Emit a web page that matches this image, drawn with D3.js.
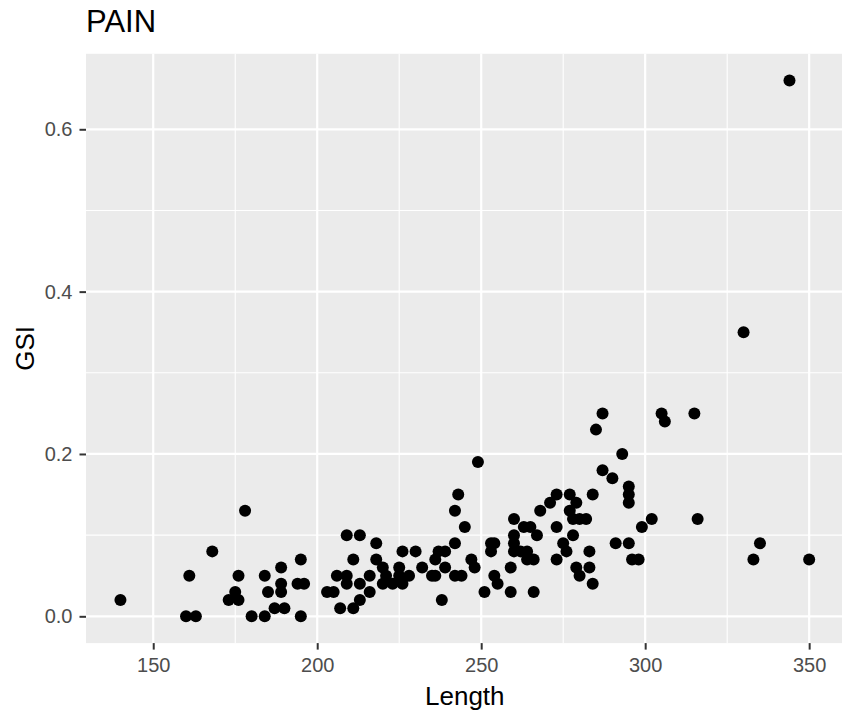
<!DOCTYPE html>
<html>
<head>
<meta charset="utf-8">
<script src="https://cdn.jsdelivr.net/npm/d3@7"></script>
<style>
  html, body { margin: 0; padding: 0; background: #fff; }
  svg { display: block; font-family: "Liberation Sans", Arial, Helvetica, sans-serif; }
</style>
</head>
<body>
<div id="chart"></div>
<script>
// Fish length vs gonadosomatic index
const lengths = [
  140, 160, 163, 161, 168, 173, 175, 176, 176, 178,
  180, 184, 184, 185, 187, 189, 189, 189, 190, 194,
  196, 195, 195, 203, 205, 206, 207, 209, 209, 209,
  211, 211, 213, 213, 213, 216, 216, 218, 218, 220,
  220, 221, 223, 225, 225, 226, 226, 228, 230, 232,
  235, 236, 236, 237, 239, 239, 238, 242, 242, 243,
  245, 242, 244, 247, 248, 249, 251, 253, 254, 253,
  254, 255, 259, 259, 260, 260, 260, 260, 262, 263,
  265, 267, 264, 264, 266, 266, 268, 271, 273, 273,
  273, 275, 276, 277, 277, 278, 280, 282, 278, 279,
  279, 283, 280, 283, 284, 284, 285, 287, 287, 290,
  293, 295, 295, 295, 291, 295, 296, 298, 299, 302,
  305, 306, 315, 316, 330, 333, 335, 344, 350
];
const gsi = [
  0.02, 0.00, 0.00, 0.05, 0.08, 0.02, 0.03, 0.02, 0.05, 0.13,
  0.00, 0.00, 0.05, 0.03, 0.01, 0.03, 0.04, 0.06, 0.01, 0.04,
  0.04, 0.07, 0.00, 0.03, 0.03, 0.05, 0.01, 0.05, 0.04, 0.10,
  0.01, 0.07, 0.10, 0.02, 0.04, 0.03, 0.05, 0.09, 0.07, 0.06,
  0.04, 0.05, 0.04, 0.06, 0.05, 0.04, 0.08, 0.05, 0.08, 0.06,
  0.05, 0.05, 0.07, 0.08, 0.08, 0.06, 0.02, 0.09, 0.13, 0.15,
  0.11, 0.05, 0.05, 0.07, 0.06, 0.19, 0.03, 0.09, 0.09, 0.08,
  0.05, 0.04, 0.06, 0.03, 0.12, 0.10, 0.09, 0.08, 0.08, 0.11,
  0.11, 0.10, 0.08, 0.07, 0.07, 0.03, 0.13, 0.14, 0.15, 0.11,
  0.07, 0.09, 0.08, 0.15, 0.13, 0.12, 0.12, 0.12, 0.10, 0.14,
  0.06, 0.06, 0.05, 0.08, 0.04, 0.15, 0.23, 0.25, 0.18, 0.17,
  0.20, 0.16, 0.15, 0.14, 0.09, 0.09, 0.07, 0.07, 0.11, 0.12,
  0.25, 0.24, 0.25, 0.12, 0.35, 0.07, 0.09, 0.66, 0.07
];

const xMajor = [150, 200, 250, 300, 350];
const xMinor = [175, 225, 275, 325];
const yMajor = [0, 0.2, 0.4, 0.6];
const yMinor = [0.1, 0.3, 0.5];

const titleText = "PAIN";
const xTitle = "Length";
const yTitle = "GSI";

const W = 842, H = 713;
const panel = { left: 86, right: 843.6, top: 53.8, bottom: 643.1 };

// ggplot-style 5% expansion around the data range
const xExt = d3.extent(lengths), yExt = d3.extent(gsi);
const xPad = (xExt[1] - xExt[0]) * 0.05, yPad = (yExt[1] - yExt[0]) * 0.05;

const x = d3.scaleLinear().domain([xExt[0] - xPad, xExt[1] + xPad]).range([panel.left, panel.right]);
const y = d3.scaleLinear().domain([yExt[0] - yPad, yExt[1] + yPad]).range([panel.bottom, panel.top]);

const svg = d3.select("#chart").append("svg")
  .attr("width", W).attr("height", H);

svg.append("rect")
  .attr("x", panel.left).attr("y", panel.top)
  .attr("width", panel.right - panel.left).attr("height", panel.bottom - panel.top)
  .attr("fill", "#EBEBEB");

const grid = svg.append("g");
grid.selectAll(".xminor").data(xMinor).join("line")
  .attr("x1", d => x(d)).attr("x2", d => x(d))
  .attr("y1", panel.top).attr("y2", panel.bottom)
  .attr("stroke", "#fff").attr("stroke-width", 1.1);
grid.selectAll(".yminor").data(yMinor).join("line")
  .attr("y1", d => y(d)).attr("y2", d => y(d))
  .attr("x1", panel.left).attr("x2", panel.right)
  .attr("stroke", "#fff").attr("stroke-width", 1.1);
grid.selectAll(".xmajor").data(xMajor).join("line")
  .attr("x1", d => x(d)).attr("x2", d => x(d))
  .attr("y1", panel.top).attr("y2", panel.bottom)
  .attr("stroke", "#fff").attr("stroke-width", 2.2);
grid.selectAll(".ymajor").data(yMajor).join("line")
  .attr("y1", d => y(d)).attr("y2", d => y(d))
  .attr("x1", panel.left).attr("x2", panel.right)
  .attr("stroke", "#fff").attr("stroke-width", 2.2);

// Axes
const xAxis = svg.append("g")
  .attr("transform", `translate(0,${panel.bottom})`)
  .call(d3.axisBottom(x).tickValues(xMajor).tickFormat(d3.format("d")).tickSize(6.5).tickPadding(8.5));
const yAxis = svg.append("g")
  .attr("transform", `translate(${panel.left},0)`)
  .call(d3.axisLeft(y).tickValues(yMajor).tickFormat(d3.format(".1f")).tickSize(6.5).tickPadding(7));

[xAxis, yAxis].forEach(g => {
  g.select(".domain").remove();
  g.selectAll(".tick line").attr("stroke", "#333333").attr("stroke-width", 2);
  g.selectAll(".tick text")
    .attr("fill", "#4D4D4D")
    .style("font-size", "20px")
    .style("font-family", "\"Liberation Sans\", Arial, Helvetica, sans-serif");
});

// Points
svg.append("g").selectAll("circle")
  .data(lengths.map((d, i) => ({ len: d, g: gsi[i] })))
  .join("circle")
  .attr("cx", d => x(d.len))
  .attr("cy", d => y(d.g))
  .attr("r", 6)
  .attr("fill", "#000");

// Titles
svg.append("text")
  .attr("x", panel.left).attr("y", 32)
  .attr("font-size", 31).attr("fill", "#000")
  .text(titleText);

svg.append("text")
  .attr("x", (panel.left + panel.right) / 2).attr("y", 705)
  .attr("text-anchor", "middle")
  .attr("font-size", 26).attr("fill", "#000")
  .text(xTitle);

svg.append("text")
  .attr("transform", `translate(34,${(panel.top + panel.bottom) / 2}) rotate(-90)`)
  .attr("text-anchor", "middle")
  .attr("font-size", 26).attr("fill", "#000")
  .text(yTitle);
</script>
</body>
</html>
